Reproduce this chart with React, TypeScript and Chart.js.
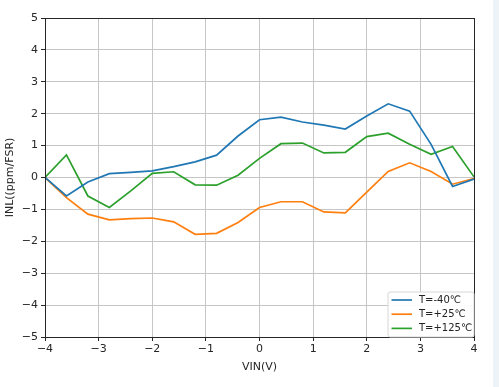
import React, { useEffect, useRef } from "react";
import { Chart, registerables } from "chart.js";

Chart.register(...registerables);

const vin = [-4, -3.6, -3.2, -2.8, -2.4, -2.0, -1.6, -1.2, -0.8, -0.4, 0, 0.4, 0.8, 1.2, 1.6, 2.0, 2.4, 2.8, 3.2, 3.6, 4.0];
const inlM40 = [0, -0.58, -0.14, 0.12, 0.16, 0.21, 0.34, 0.49, 0.7, 1.3, 1.81, 1.89, 1.74, 1.64, 1.52, 1.93, 2.31, 2.08, 1.04, -0.28, -0.05];
const inlP25 = [0, -0.63, -1.15, -1.33, -1.29, -1.27, -1.39, -1.78, -1.75, -1.41, -0.94, -0.76, -0.76, -1.08, -1.11, -0.46, 0.19, 0.46, 0.19, -0.21, -0.03];
const inlP125 = [0, 0.71, -0.58, -0.94, -0.42, 0.13, 0.18, -0.23, -0.24, 0.07, 0.6, 1.06, 1.08, 0.77, 0.79, 1.28, 1.39, 1.04, 0.73, 0.97, 0.02];
const seriesLabels = ["T=-40℃", "T=+25℃", "T=+125℃"];
const seriesColors = ["#1f77b4", "#ff7f0e", "#2ca02c"];
const xTicks = [-4, -3, -2, -1, 0, 1, 2, 3, 4];
const yTicks = [-5, -4, -3, -2, -1, 0, 1, 2, 3, 4, 5];

const FONT = "'DejaVu Sans', sans-serif";
const fmt = (v: number) => (v < 0 ? "\u2212" + Math.abs(v) : String(v));

const framePlugin = {
  id: "frameAndLegend",
  afterDraw(chart: any) {
    const { ctx, chartArea } = chart;
    const { left, right, top, bottom } = chartArea;
    ctx.save();
    ctx.strokeStyle = "#262626";
    ctx.lineWidth = 1;
    ctx.strokeRect(Math.round(left) + 0.5, Math.round(top) + 0.5, Math.round(right - left), Math.round(bottom - top));
    // legend
    const bw = 86, bh = 45;
    const bx = right - bw, by = bottom - bh;
    ctx.fillStyle = "rgba(255,255,255,0.9)";
    ctx.strokeStyle = "#d6d6d6";
    ctx.beginPath();
    const r = 2;
    ctx.moveTo(bx + r, by);
    ctx.lineTo(bx + bw - r, by);
    ctx.quadraticCurveTo(bx + bw, by, bx + bw, by + r);
    ctx.lineTo(bx + bw, by + bh - r);
    ctx.quadraticCurveTo(bx + bw, by + bh, bx + bw - r, by + bh);
    ctx.lineTo(bx + r, by + bh);
    ctx.quadraticCurveTo(bx, by + bh, bx, by + bh - r);
    ctx.lineTo(bx, by + r);
    ctx.quadraticCurveTo(bx, by, bx + r, by);
    ctx.closePath();
    ctx.fill();
    ctx.stroke();
    ctx.font = `10px ${FONT}`;
    ctx.textBaseline = "middle";
    ctx.textAlign = "left";
    chart.data.datasets.forEach((ds: any, i: number) => {
      const y = by + 8 + i * 14.2;
      ctx.strokeStyle = ds.borderColor;
      ctx.lineWidth = 1.7;
      ctx.beginPath();
      ctx.moveTo(bx + 3.5, y);
      ctx.lineTo(bx + 24, y);
      ctx.stroke();
      ctx.fillStyle = "#222";
      ctx.fillText(ds.label, bx + 31, y);
    });
    ctx.restore();
  },
};

export default function App() {
  const ref = useRef<HTMLCanvasElement>(null);
  useEffect(() => {
    if (!ref.current) return;
    const mk = (vals: number[], i: number) => ({
      label: seriesLabels[i],
      data: vin.map((x, k) => ({ x, y: vals[k] })),
      borderColor: seriesColors[i],
      backgroundColor: seriesColors[i],
      borderWidth: 1.7,
      pointRadius: 0,
      tension: 0,
    });
    const chart = new Chart(ref.current, {
      type: "line",
      data: { datasets: [mk(inlM40, 0), mk(inlP25, 1), mk(inlP125, 2)] },
      options: {
        animation: false,
        responsive: false,
        maintainAspectRatio: false,
        layout: { padding: { left: 0, top: 18, right: 25, bottom: 13 } },
        plugins: { legend: { display: false }, tooltip: { enabled: false } },
        scales: {
          x: {
            type: "linear",
            min: -4,
            max: 4,
            afterFit: (s: any) => { s.height = 37; },
            afterBuildTicks: (s: any) => { s.ticks = xTicks.map((v) => ({ value: v })); },
            grid: { color: "#c6c6c6", lineWidth: 1, tickColor: "#262626", tickLength: 4, drawTicks: true },
            border: { color: "#262626" },
            ticks: { color: "#262626", font: { family: FONT, size: 11 }, padding: 2, maxRotation: 0, callback: (v: any) => fmt(Number(v)) },
            title: { display: true, text: "VIN(V)", color: "#262626", font: { family: FONT, size: 11 }, padding: { top: 1, bottom: 0 } },
          },
          y: {
            type: "linear",
            min: -5,
            max: 5,
            afterFit: (s: any) => { s.width = 45; },
            afterBuildTicks: (s: any) => { s.ticks = yTicks.map((v) => ({ value: v })); },
            grid: { color: "#c6c6c6", lineWidth: 1, tickColor: "#262626", tickLength: 4, drawTicks: true },
            border: { color: "#262626" },
            ticks: { color: "#262626", font: { family: FONT, size: 11 }, padding: 3, callback: (v: any) => fmt(Number(v)) },
            title: { display: true, text: "INL((ppm/FSR)", color: "#262626", font: { family: FONT, size: 11 }, padding: { top: 4, bottom: 0 } },
          },
        },
      },
      plugins: [framePlugin],
    } as any);
    return () => chart.destroy();
  }, []);
  return (
    <div style={{ position: "fixed", left: 0, top: 0, width: 499, height: 387, background: "#fff" }}>
      <canvas ref={ref} width={499} height={387} style={{ position: "absolute", left: 0, top: 0 }} />
      <div style={{ position: "absolute", left: 493, top: 0, width: 6, height: 387, background: "#eef3f7" }} />
    </div>
  );
}
